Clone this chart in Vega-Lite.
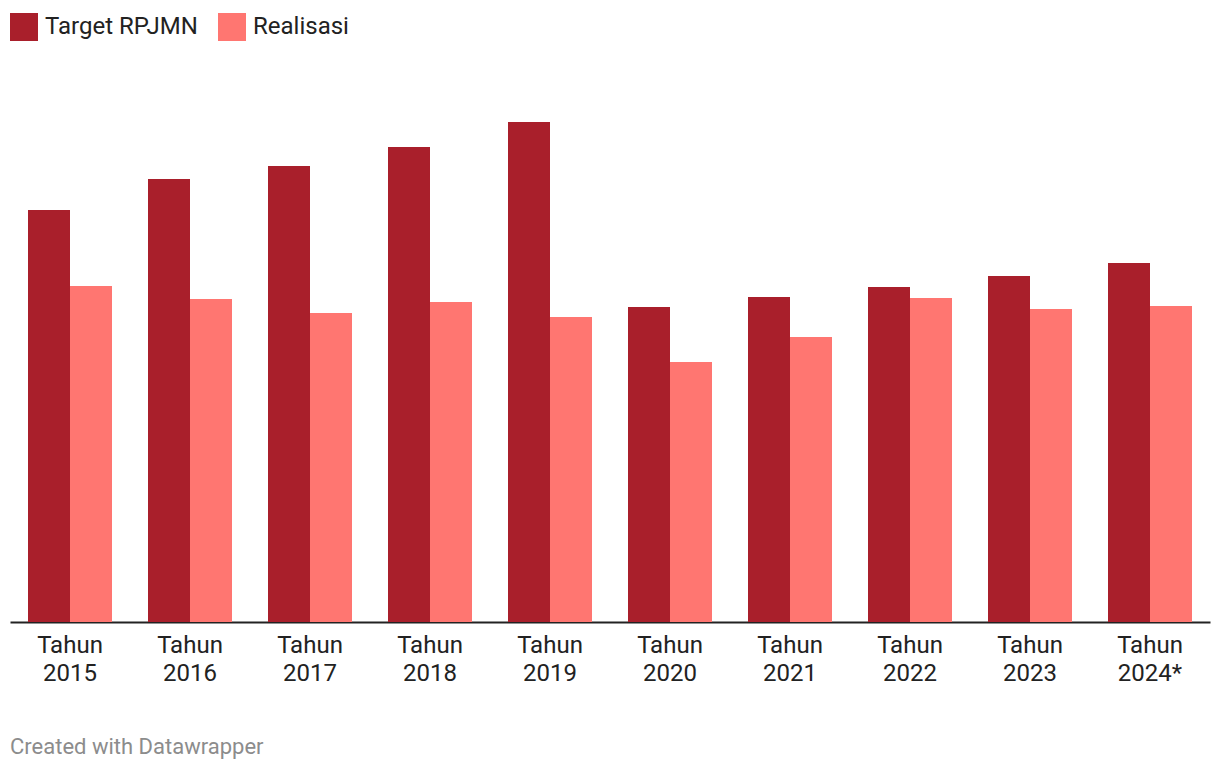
{
  "$schema": "https://vega.github.io/schema/vega-lite/v6.json",
  "width": 1200,
  "height": 500,
  "padding": {"left": 10, "top": 122, "right": 10, "bottom": 150},
  "autosize": {"type": "none"},
  "background": "white",
  "config": {"font": "Roboto", "view": {"stroke": null}},
  "title": {
    "text": "Created with Datawrapper",
    "orient": "bottom",
    "anchor": "start",
    "frame": "group",
    "offset": 52,
    "fontSize": 22,
    "fontWeight": "normal",
    "color": "#8c8c8c",
    "font": "Roboto"
  },
  "data": {
    "values": [
      {"tahun": "Tahun 2015", "seri": "Target RPJMN", "nilai": 412},
      {"tahun": "Tahun 2015", "seri": "Realisasi", "nilai": 336},
      {"tahun": "Tahun 2016", "seri": "Target RPJMN", "nilai": 443},
      {"tahun": "Tahun 2016", "seri": "Realisasi", "nilai": 323},
      {"tahun": "Tahun 2017", "seri": "Target RPJMN", "nilai": 456},
      {"tahun": "Tahun 2017", "seri": "Realisasi", "nilai": 309},
      {"tahun": "Tahun 2018", "seri": "Target RPJMN", "nilai": 475},
      {"tahun": "Tahun 2018", "seri": "Realisasi", "nilai": 320},
      {"tahun": "Tahun 2019", "seri": "Target RPJMN", "nilai": 500},
      {"tahun": "Tahun 2019", "seri": "Realisasi", "nilai": 305},
      {"tahun": "Tahun 2020", "seri": "Target RPJMN", "nilai": 315},
      {"tahun": "Tahun 2020", "seri": "Realisasi", "nilai": 260},
      {"tahun": "Tahun 2021", "seri": "Target RPJMN", "nilai": 325},
      {"tahun": "Tahun 2021", "seri": "Realisasi", "nilai": 285},
      {"tahun": "Tahun 2022", "seri": "Target RPJMN", "nilai": 335},
      {"tahun": "Tahun 2022", "seri": "Realisasi", "nilai": 324},
      {"tahun": "Tahun 2023", "seri": "Target RPJMN", "nilai": 346},
      {"tahun": "Tahun 2023", "seri": "Realisasi", "nilai": 313},
      {"tahun": "Tahun 2024*", "seri": "Target RPJMN", "nilai": 359},
      {"tahun": "Tahun 2024*", "seri": "Realisasi", "nilai": 316}
    ]
  },
  "mark": {"type": "bar"},
  "encoding": {
    "x": {
      "field": "tahun",
      "type": "nominal",
      "sort": null,
      "scale": {"paddingInner": 0.3, "paddingOuter": 0.15},
      "axis": {
        "title": null,
        "labelAngle": 0,
        "labelExpr": "split(datum.label, ' ')",
        "labelFontSize": 24,
        "labelLineHeight": 28,
        "labelColor": "#222222",
        "labelPadding": 11,
        "ticks": false,
        "domainColor": "#222222",
        "domainWidth": 2,
        "labelFont": "Roboto"
      }
    },
    "xOffset": {"field": "seri", "type": "nominal", "sort": ["Target RPJMN", "Realisasi"]},
    "y": {
      "field": "nilai",
      "type": "quantitative",
      "scale": {"domain": [0, 500], "nice": false},
      "axis": null
    },
    "color": {
      "field": "seri",
      "type": "nominal",
      "sort": ["Target RPJMN", "Realisasi"],
      "scale": {"domain": ["Target RPJMN", "Realisasi"], "range": ["#a91f2b", "#ff7671"]},
      "legend": {
        "title": null,
        "orient": "none",
        "legendX": 0,
        "legendY": -109,
        "direction": "horizontal",
        "symbolType": "square",
        "symbolSize": 784,
        "symbolStrokeWidth": 0,
        "symbolOpacity": 1,
        "labelFontSize": 24,
        "labelColor": "#222222",
        "labelFont": "Roboto",
        "columnPadding": 20,
        "labelOffset": 7
      }
    }
  }
}
